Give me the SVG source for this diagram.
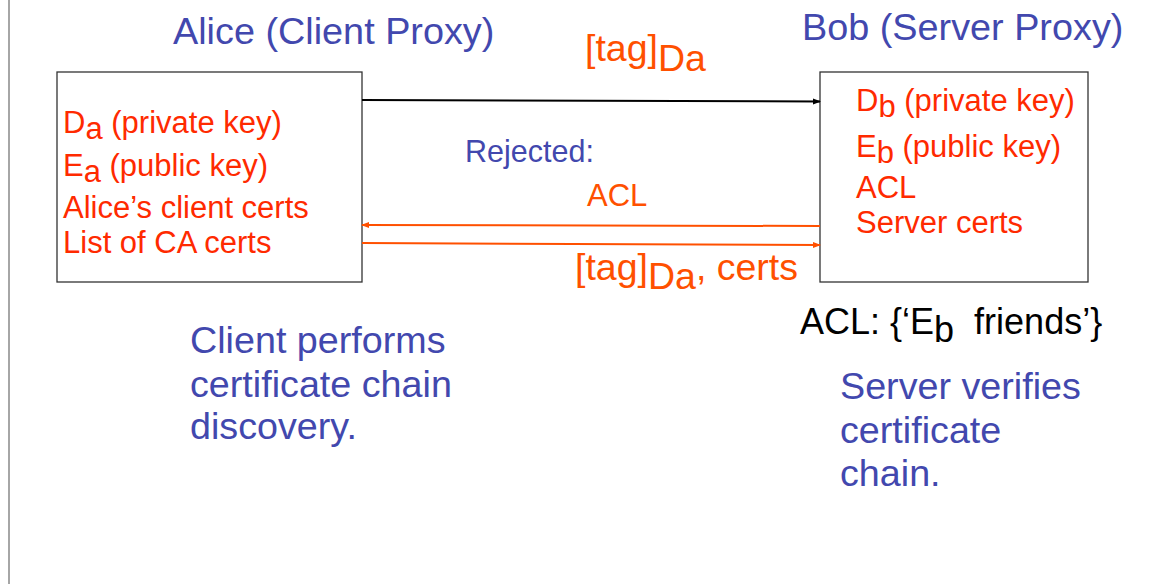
<svg xmlns="http://www.w3.org/2000/svg" width="1151" height="584" viewBox="0 0 1151 584">
<style>
text{font-family:"Liberation Sans",Arial,sans-serif}
.blue{fill:#4248AE}
.red{fill:#FF2A00}
.or{fill:#FF5000}
.box{fill:#fff;stroke:#333;stroke-width:1.3}
</style>
<defs>
<marker id="ab" markerWidth="8" markerHeight="8" refX="7" refY="4" orient="auto" markerUnits="userSpaceOnUse"><path d="M0,1 L8,4 L0,7 z" fill="#000"/></marker>
<marker id="ao" markerWidth="8" markerHeight="8" refX="7" refY="4" orient="auto" markerUnits="userSpaceOnUse"><path d="M0,1 L8,4 L0,7 z" fill="#FF5000"/></marker>
</defs>
<rect width="1151" height="584" fill="#fff"/>
<line x1="9" y1="0" x2="9" y2="584" stroke="#888" stroke-width="1.5"/>
<text x="173" y="44" font-size="37.8" class="blue">Alice (Client Proxy)</text>
<text x="802" y="40" font-size="37.8" class="blue">Bob (Server Proxy)</text>
<g id="alice">
<rect class="box" x="57" y="72" width="305" height="210"/>
<text x="63" y="133" font-size="31" class="red">D<tspan dy="6">a</tspan><tspan dy="-6"> (private key)</tspan></text>
<text x="63" y="176" font-size="31" class="red">E<tspan dy="6">a</tspan><tspan dy="-6"> (public key)</tspan></text>
<text x="63" y="218" font-size="31" class="red">Alice’s client certs</text>
<text x="63" y="253" font-size="31" class="red">List of CA certs</text>
</g>
<g id="bob">
<rect class="box" x="820" y="72" width="268" height="210"/>
<text x="856" y="111" font-size="31" class="red">D<tspan dy="6">b</tspan><tspan dy="-6"> (private key)</tspan></text>
<text x="856" y="157" font-size="31" class="red">E<tspan dy="6">b</tspan><tspan dy="-6"> (public key)</tspan></text>
<text x="856" y="198" font-size="31" class="red">ACL</text>
<text x="856" y="233" font-size="31" class="red">Server certs</text>
</g>
<g id="connectors">
<line x1="362" y1="100" x2="820" y2="101.5" stroke="#000" stroke-width="2" marker-end="url(#ab)"/>
<line x1="820" y1="226" x2="362" y2="225" stroke="#FF5000" stroke-width="2" marker-end="url(#ao)"/>
<line x1="362" y1="243" x2="820" y2="245" stroke="#FF5000" stroke-width="2" marker-end="url(#ao)"/>
</g>
<text x="585" y="61" font-size="37.5" class="or">[tag]<tspan dy="10">Da</tspan></text>
<text x="465" y="162" font-size="30.5" class="blue">Rejected:</text>
<text x="587" y="206" font-size="31" class="or">ACL</text>
<text x="575" y="280" font-size="37.5" class="or">[tag]<tspan dy="9">Da</tspan><tspan dy="-9">, certs</tspan></text>
<text x="800" y="334" font-size="36" fill="#000" xml:space="preserve">ACL: {‘E<tspan dy="8">b</tspan><tspan dy="-8">  friends’}</tspan></text>
<g id="client-note">
<text x="190" y="353" font-size="37.7" class="blue">Client performs</text>
<text x="190" y="397" font-size="37.7" class="blue">certificate chain</text>
<text x="190" y="439" font-size="37.7" class="blue">discovery.</text>
</g>
<g id="server-note">
<text x="840" y="399" font-size="37.7" class="blue">Server verifies</text>
<text x="840" y="443" font-size="37.7" class="blue">certificate</text>
<text x="840" y="486" font-size="37.7" class="blue">chain.</text>
</g>
</svg>
